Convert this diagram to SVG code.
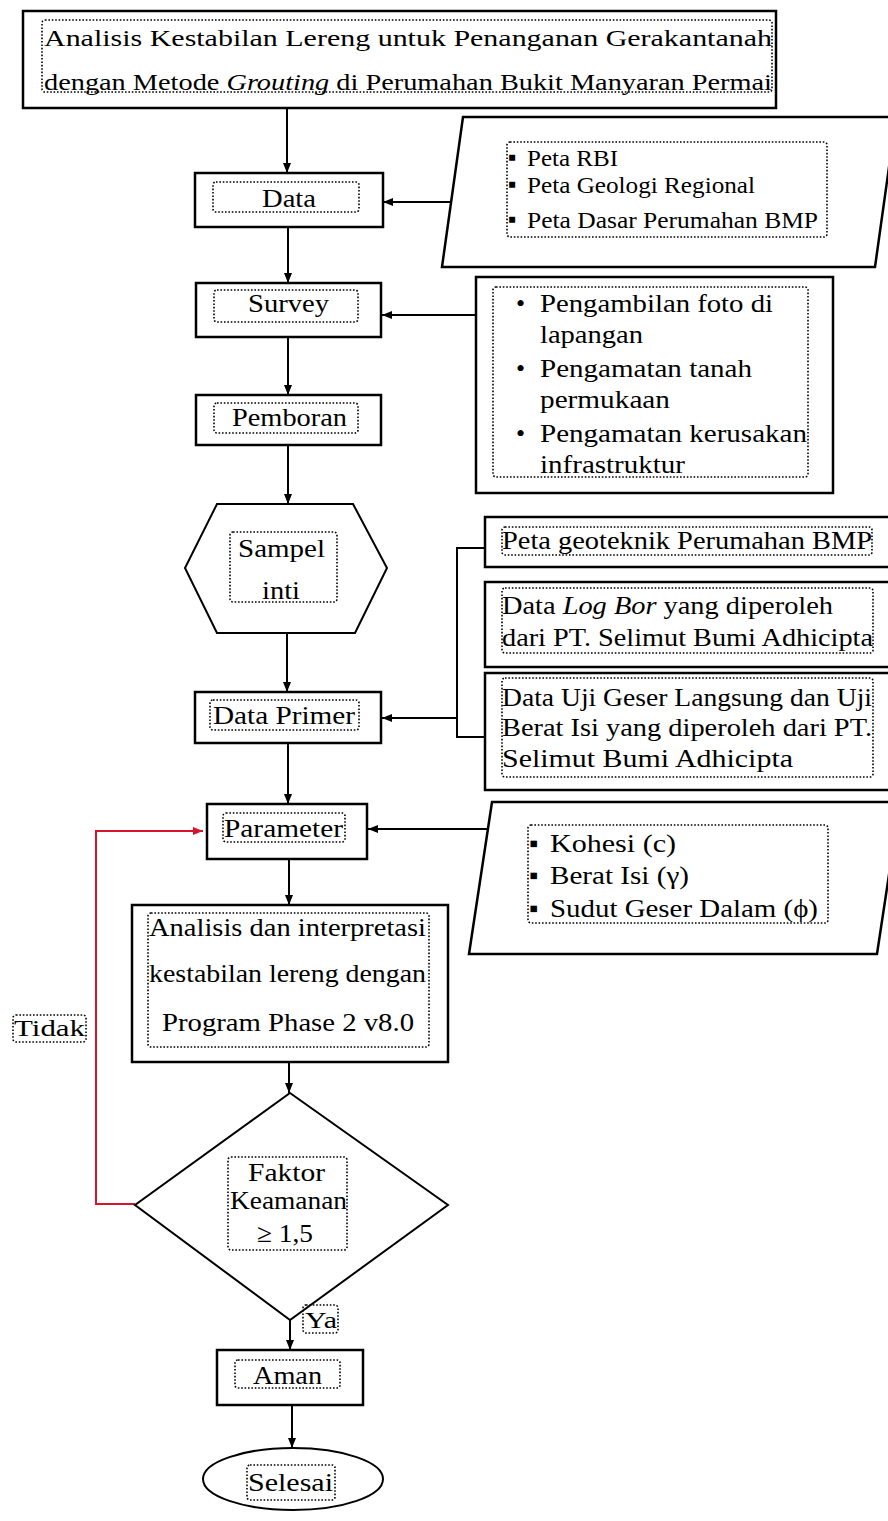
<svg xmlns="http://www.w3.org/2000/svg" width="888" height="1521" viewBox="0 0 888 1521">
<defs>
<style>
.box{fill:#fff;stroke:#000;stroke-width:2.5}
.shape{fill:#fff;stroke:#000;stroke-width:2}
.dot{fill:none;stroke:#000;stroke-width:1.6;stroke-dasharray:1.6 1.8}
.t{font-family:"Liberation Serif","Times New Roman",serif;font-size:26px;fill:#000}
.s{font-size:24px}
.c{stroke:#000;stroke-width:2;fill:none}
.r{stroke:#d6142c;stroke-width:2;fill:none}
</style>
<marker id="ah" viewBox="0 0 10 8" markerWidth="10" markerHeight="8" refX="10" refY="4" orient="auto" markerUnits="userSpaceOnUse"><path d="M0,0 L10,4 L0,8 z" fill="#000"/></marker>
<marker id="ahr" viewBox="0 0 10 8" markerWidth="10" markerHeight="8" refX="10" refY="4" orient="auto" markerUnits="userSpaceOnUse"><path d="M0,0 L10,4 L0,8 z" fill="#d6142c"/></marker>
</defs>
<rect width="888" height="1521" fill="#fff"/>

<g id="connectors">
<line class="c" x1="287" y1="108" x2="287" y2="173" marker-end="url(#ah)"/>
<line class="c" x1="451" y1="202" x2="383" y2="202" marker-end="url(#ah)"/>
<line class="c" x1="288" y1="227" x2="288" y2="283" marker-end="url(#ah)"/>
<line class="c" x1="476" y1="315" x2="382" y2="315" marker-end="url(#ah)"/>
<line class="c" x1="288" y1="337" x2="288" y2="395" marker-end="url(#ah)"/>
<line class="c" x1="288" y1="445" x2="288" y2="504" marker-end="url(#ah)"/>
<line class="c" x1="287" y1="633" x2="287" y2="692" marker-end="url(#ah)"/>
<polyline class="c" points="485,548 457,548 457,737 485,737"/>
<line class="c" x1="457" y1="718" x2="382" y2="718" marker-end="url(#ah)"/>
<line class="c" x1="288" y1="743" x2="288" y2="804" marker-end="url(#ah)"/>
<line class="c" x1="488" y1="829" x2="368" y2="829" marker-end="url(#ah)"/>
<line class="c" x1="289" y1="859" x2="289" y2="905" marker-end="url(#ah)"/>
<line class="c" x1="289" y1="1062" x2="289" y2="1093" marker-end="url(#ah)"/>
<polyline class="r" points="135,1204 96,1204 96,831 203,831" marker-end="url(#ahr)"/>
<line class="c" x1="290" y1="1320" x2="290" y2="1350" marker-end="url(#ah)"/>
<line class="c" x1="292" y1="1405" x2="292" y2="1448" marker-end="url(#ah)"/>
</g>

<g id="title">
<rect class="box" x="23" y="11" width="753" height="97"/>
<rect class="dot" x="42" y="20" width="730" height="72" rx="3"/>
<text class="t s" x="44" y="46" textLength="728" lengthAdjust="spacingAndGlyphs">Analisis Kestabilan Lereng untuk Penanganan Gerakantanah</text>
<text class="t s" x="44" y="90" textLength="728" lengthAdjust="spacingAndGlyphs">dengan Metode <tspan font-style="italic">Grouting</tspan> di Perumahan Bukit Manyaran Permai</text>
</g>

<g id="data">
<rect class="box" x="195" y="173" width="188" height="54"/>
<rect class="dot" x="213" y="182" width="146" height="30" rx="3"/>
<text class="t" x="262" y="207" textLength="54" lengthAdjust="spacingAndGlyphs">Data</text>
</g>

<g id="data-sources">
<polygon class="box" points="463,117 896,117 875,267 442,267"/>
<rect class="dot" x="507" y="142" width="320" height="95" rx="3"/>
<text class="t s" x="508" y="165">▪</text>
<text class="t s" x="508" y="192">▪</text>
<text class="t s" x="508" y="227">▪</text>
<text class="t s" x="527" y="166" textLength="91" lengthAdjust="spacingAndGlyphs">Peta RBI</text>
<text class="t s" x="527" y="193" textLength="228" lengthAdjust="spacingAndGlyphs">Peta Geologi Regional</text>
<text class="t s" x="527" y="228" textLength="291" lengthAdjust="spacingAndGlyphs">Peta Dasar Perumahan BMP</text>
</g>

<g id="survey">
<rect class="box" x="196" y="283" width="185" height="54"/>
<rect class="dot" x="214" y="290" width="144" height="32" rx="3"/>
<text class="t" x="248" y="312" textLength="81" lengthAdjust="spacingAndGlyphs">Survey</text>
</g>

<g id="survey-items">
<rect class="box" x="476" y="277" width="357" height="216"/>
<rect class="dot" x="493" y="287" width="315" height="190" rx="3"/>
<text class="t" x="516" y="312">•</text>
<text class="t" x="516" y="377">•</text>
<text class="t" x="516" y="442">•</text>
<text class="t" x="540" y="312" textLength="233" lengthAdjust="spacingAndGlyphs">Pengambilan foto di</text>
<text class="t" x="540" y="343" textLength="103" lengthAdjust="spacingAndGlyphs">lapangan</text>
<text class="t" x="540" y="377" textLength="212" lengthAdjust="spacingAndGlyphs">Pengamatan tanah</text>
<text class="t" x="540" y="408" textLength="130" lengthAdjust="spacingAndGlyphs">permukaan</text>
<text class="t" x="540" y="442" textLength="267" lengthAdjust="spacingAndGlyphs">Pengamatan kerusakan</text>
<text class="t" x="540" y="473" textLength="145" lengthAdjust="spacingAndGlyphs">infrastruktur</text>
</g>

<g id="pemboran">
<rect class="box" x="196" y="395" width="185" height="50"/>
<rect class="dot" x="214" y="403" width="144" height="30" rx="3"/>
<text class="t" x="232" y="426" textLength="115" lengthAdjust="spacingAndGlyphs">Pemboran</text>
</g>

<g id="sampel">
<polygon class="shape" points="217,504 353,504 387,568 355,633 217,633 185,568"/>
<rect class="dot" x="230" y="532" width="107" height="70" rx="3"/>
<text class="t" x="238" y="557" textLength="87" lengthAdjust="spacingAndGlyphs">Sampel</text>
<text class="t" x="262" y="599" textLength="38" lengthAdjust="spacingAndGlyphs">inti</text>
</g>

<g id="data-primer">
<rect class="box" x="195" y="692" width="186" height="51"/>
<rect class="dot" x="210" y="700" width="149" height="30" rx="3"/>
<text class="t" x="213" y="724" textLength="142" lengthAdjust="spacingAndGlyphs">Data Primer</text>
</g>

<g id="peta-geoteknik">
<rect class="box" x="485" y="517" width="410" height="50"/>
<rect class="dot" x="502" y="527" width="370" height="28" rx="3"/>
<text class="t" x="502" y="549" font-size="23" textLength="370" lengthAdjust="spacingAndGlyphs">Peta geoteknik Perumahan BMP</text>
</g>

<g id="log-bor">
<rect class="box" x="485" y="582" width="410" height="85"/>
<rect class="dot" x="502" y="588" width="371" height="65" rx="3"/>
<text class="t" x="502" y="614" textLength="331" lengthAdjust="spacingAndGlyphs">Data <tspan font-style="italic">Log Bor</tspan> yang diperoleh</text>
<text class="t" x="502" y="646" textLength="371" lengthAdjust="spacingAndGlyphs">dari PT. Selimut Bumi Adhicipta</text>
</g>

<g id="uji-geser">
<rect class="box" x="485" y="673" width="410" height="117"/>
<rect class="dot" x="502" y="678" width="371" height="99" rx="3"/>
<text class="t" x="502" y="706" textLength="370" lengthAdjust="spacingAndGlyphs">Data Uji Geser Langsung dan Uji</text>
<text class="t" x="502" y="736" textLength="370" lengthAdjust="spacingAndGlyphs">Berat Isi yang diperoleh dari PT.</text>
<text class="t" x="502" y="767" textLength="291" lengthAdjust="spacingAndGlyphs">Selimut Bumi Adhicipta</text>
</g>

<g id="parameter">
<rect class="box" x="207" y="804" width="160" height="55"/>
<rect class="dot" x="223" y="813" width="122" height="29" rx="3"/>
<text class="t" x="224" y="837" textLength="119" lengthAdjust="spacingAndGlyphs">Parameter</text>
</g>

<g id="parameter-items">
<polygon class="box" points="492,802 900,802 877,954 469,954"/>
<rect class="dot" x="528" y="825" width="300" height="98" rx="3"/>
<text class="t" x="529" y="852">▪</text>
<text class="t" x="529" y="884">▪</text>
<text class="t" x="529" y="917">▪</text>
<text class="t" x="550" y="852" textLength="126" lengthAdjust="spacingAndGlyphs">Kohesi (c)</text>
<text class="t" x="550" y="884" textLength="139" lengthAdjust="spacingAndGlyphs">Berat Isi (γ)</text>
<text class="t" x="550" y="917" textLength="268" lengthAdjust="spacingAndGlyphs">Sudut Geser Dalam (ϕ)</text>
</g>

<g id="analisis">
<rect class="box" x="132" y="905" width="316" height="157"/>
<rect class="dot" x="148" y="913" width="281" height="134" rx="3"/>
<text class="t" x="149" y="936" textLength="277" lengthAdjust="spacingAndGlyphs">Analisis dan interpretasi</text>
<text class="t" x="149" y="982" textLength="277" lengthAdjust="spacingAndGlyphs">kestabilan lereng dengan</text>
<text class="t" x="162" y="1031" textLength="252" lengthAdjust="spacingAndGlyphs">Program Phase 2 v8.0</text>
</g>

<g id="tidak">
<rect class="dot" x="13" y="1015" width="73" height="27" rx="3"/>
<text class="t s" x="14" y="1036" textLength="71" lengthAdjust="spacingAndGlyphs">Tidak</text>
</g>

<g id="faktor-keamanan">
<polygon class="shape" points="290,1093 448,1205 290,1320 135,1205"/>
<rect class="dot" x="228" y="1157" width="119" height="93" rx="3"/>
<text class="t" x="248" y="1181" textLength="77" lengthAdjust="spacingAndGlyphs">Faktor</text>
<text class="t" x="230" y="1209" textLength="117" lengthAdjust="spacingAndGlyphs">Keamanan</text>
<text class="t" x="257" y="1242" textLength="56" lengthAdjust="spacingAndGlyphs">≥ 1,5</text>
</g>

<g id="ya">
<rect class="dot" x="303" y="1305" width="35" height="28" rx="3"/>
<text class="t s" x="305" y="1328" textLength="32" lengthAdjust="spacingAndGlyphs">Ya</text>
</g>

<g id="aman">
<rect class="box" x="217" y="1350" width="146" height="55"/>
<rect class="dot" x="235" y="1360" width="105" height="28" rx="3"/>
<text class="t" x="253" y="1384" textLength="69" lengthAdjust="spacingAndGlyphs">Aman</text>
</g>

<g id="selesai">
<ellipse class="shape" cx="293" cy="1479" rx="90" ry="31"/>
<rect class="dot" x="247" y="1465" width="88" height="35" rx="3"/>
<text class="t" x="248" y="1491" textLength="85" lengthAdjust="spacingAndGlyphs">Selesai</text>
</g>
</svg>
